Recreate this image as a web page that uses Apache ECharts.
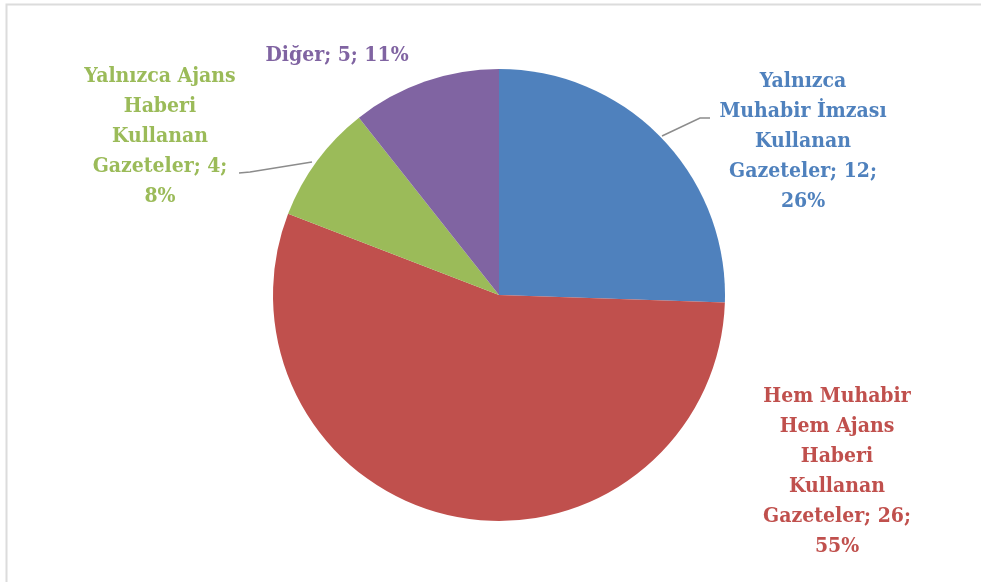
<!DOCTYPE html>
<html><head><meta charset="utf-8">
<script src="https://cdn.jsdelivr.net/npm/echarts@6/dist/echarts.min.js"></script>
<style>html,body{margin:0;padding:0;background:#fff}#c{width:981px;height:582px}</style>
</head><body><div id="c"></div>
<script>
const categories = ['Yalnızca\nMuhabir İmzası\nKullanan\nGazeteler', 'Hem Muhabir\nHem Ajans\nHaberi\nKullanan\nGazeteler', 'Yalnızca Ajans\nHaberi\nKullanan\nGazeteler', 'Diğer'];
const values = [12, 26, 4, 5];
const pctLabels = ['26%', '55%', '8%', '11%'];
const colors = ['#4F81BD', '#C0504D', '#9BBB59', '#8064A2'];
const labelSep = ['\n', '\n', '\n', ' '];
const labelPos = [[803, 142], [837, 472], [160, 137], [337, 56]];
const leaderLines = [[[662, 136], [700, 118], [710, 118]], null, [[312, 162], [250, 172], [239, 173]], null];

const chart = echarts.init(document.getElementById('c'));
chart.setOption({
  animation: false,
  graphic: [{type: 'rect', shape: {x: 6.5, y: 4.5, width: 1100, height: 700}, style: {fill: 'none', stroke: '#dcdcdc', lineWidth: 2}, silent: true}],
  series: [{
    type: 'pie',
    center: [499, 295],
    radius: [0, 226],
    startAngle: 90,
    clockwise: true,
    data: values.map((v, i) => ({
      value: v,
      name: categories[i],
      itemStyle: {color: colors[i]},
      label: {color: colors[i]},
      labelLine: {show: !!leaderLines[i]}
    })),
    label: {
      show: true,
      position: 'outside',
      fontFamily: 'DejaVu Serif Condensed, DejaVu Serif, serif',
      fontWeight: 'bold',
      fontSize: 21,
      lineHeight: 30,
      align: 'center',
      formatter: p => p.name + '; ' + values[p.dataIndex] + ';' + labelSep[p.dataIndex] + pctLabels[p.dataIndex]
    },
    labelLine: {length: 20, length2: 10, lineStyle: {color: '#8c8c8c', width: 1.5}},
    labelLayout: p => {
      const o = {x: labelPos[p.dataIndex][0], y: labelPos[p.dataIndex][1], align: 'center', verticalAlign: 'middle'};
      if (leaderLines[p.dataIndex]) o.labelLinePoints = leaderLines[p.dataIndex];
      return o;
    }
  }]
});
</script></body></html>
